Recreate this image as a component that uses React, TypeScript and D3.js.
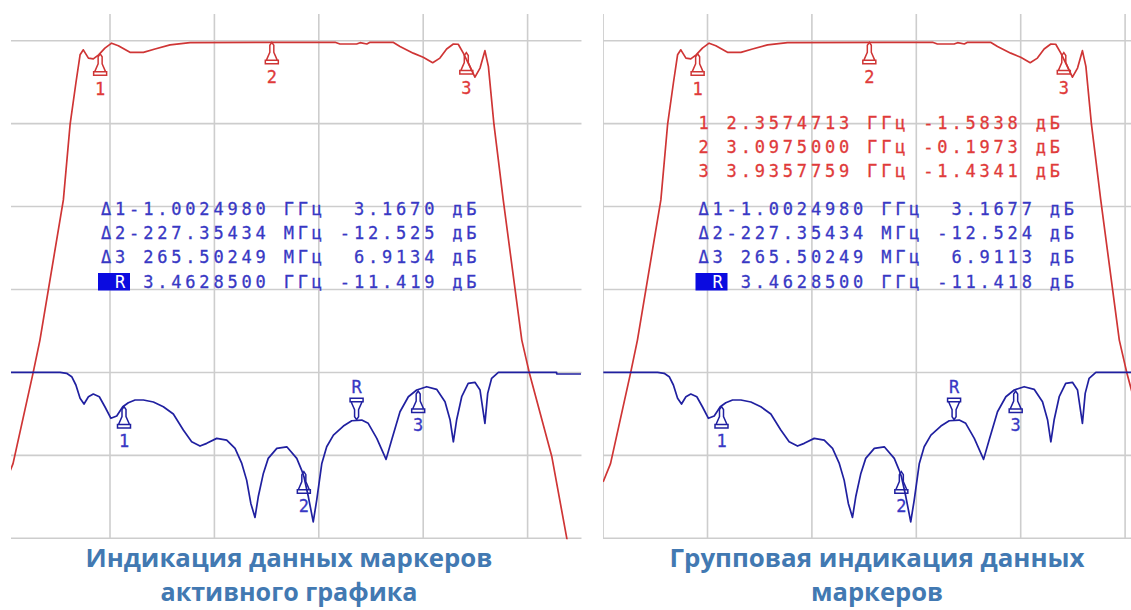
import React from 'react';
import * as d3 from 'd3';

// ---------- DATA ----------
// Transmission trace (red), frequency in GHz and level in dB (10 dB/div, ref 0 dB at top line)
const redFreq = [1.950, 1.982, 2.069, 2.098, 2.199, 2.228, 2.253, 2.271, 2.285, 2.307, 2.328, 2.351, 2.378, 2.407, 2.436, 2.486, 2.544, 2.594, 2.659, 2.745, 3.176, 3.370, 3.391, 3.463, 3.478, 3.507, 3.521, 3.620, 3.650, 3.707, 3.750, 3.791, 3.822, 3.851, 3.880, 3.901, 3.923, 3.944, 3.973, 3.995, 4.016, 4.031, 4.045, 4.055, 4.074, 4.095, 4.175, 4.207, 4.304, 4.369, 4.404];
const redDb = [-53.2, -51.0, -40.0, -36.1, -19.2, -10.1, -5.1, -1.7, -1.1, -2.1, -2.2, -1.7, -0.9, -0.3, -0.6, -1.4, -1.4, -1.0, -0.5, -0.24, -0.19, -0.19, -0.4, -0.4, -0.24, -0.4, -0.19, -0.19, -0.7, -1.5, -2.0, -2.65, -2.1, -1.0, -0.4, -0.43, -1.5, -2.7, -4.4, -3.3, -1.2, -3.1, -7.2, -10.1, -14.4, -19.2, -36.1, -40.0, -50.1, -60.0, -65.0];

// Reflection trace (blue), frequency in GHz and level in dB (20 dB/div, ref 0 dB at 5th line)
const blueFreq = [1.951, 2.185, 2.213, 2.235, 2.253, 2.271, 2.288, 2.307, 2.328, 2.354, 2.378, 2.404, 2.429, 2.455, 2.479, 2.508, 2.544, 2.587, 2.630, 2.673, 2.716, 2.752, 2.788, 2.817, 2.860, 2.903, 2.939, 2.968, 2.989, 3.007, 3.025, 3.039, 3.061, 3.082, 3.119, 3.162, 3.205, 3.226, 3.236, 3.255, 3.276, 3.291, 3.313, 3.334, 3.363, 3.406, 3.442, 3.485, 3.513, 3.550, 3.590, 3.614, 3.650, 3.686, 3.722, 3.765, 3.808, 3.844, 3.866, 3.880, 3.894, 3.916, 3.944, 3.973, 3.995, 4.016, 4.028, 4.045, 4.074, 4.325, 4.3255, 4.430];
const blueDb = [0, 0, -0.24, -1.06, -3.06, -6.27, -7.65, -5.89, -5.23, -5.89, -8.3, -11.09, -10.54, -8.3, -7.33, -6.68, -6.68, -7.16, -8.3, -10.06, -13.92, -16.74, -17.78, -17.12, -15.92, -16.33, -18.33, -21.95, -25.98, -31.6, -34.97, -30.0, -24.36, -20.74, -18.33, -17.95, -20.74, -23.56, -25.18, -30.0, -36.03, -30.8, -21.95, -17.95, -15.12, -12.95, -11.67, -11.51, -12.3, -15.92, -20.98, -16.33, -9.5, -5.89, -4.27, -3.47, -4.1, -7.09, -11.5, -16.74, -11.5, -5.89, -2.65, -2.41, -4.27, -12.3, -5.07, -1.45, 0, 0, -0.41, -0.41];

// Grid
const gridFreq = [1.95, 2.4, 2.85, 3.3, 3.75, 4.2, 4.65];
const gridDbRed = [0, -10, -20, -30, -40, -50, -60];

// Markers on red trace
const redMarkerFreq = [2.3574713, 3.0975, 3.9357759];
const redMarkerDb = [-1.5838, -0.1973, -1.4341];
const redMarkerLabel = ['1', '2', '3'];

// Markers on blue trace (delta to reference R)
const refFreq = 3.46285;
const refDb = -11.419;
const deltaFreq = [-1.002498, -0.22735434, 0.26550249];
const deltaDb = [3.167, -12.525, 6.9134];
const deltaLabel = ['1', '2', '3'];

// Readouts
const leftDeltaRows = ['Δ1-1.0024980 ГГц  3.1670 дБ', 'Δ2-227.35434 МГц -12.525 дБ', 'Δ3 265.50249 МГц  6.9134 дБ'];
const leftRefRow = ' 3.4628500 ГГц -11.419 дБ';
const rightRedRows = ['1 2.3574713 ГГц -1.5838 дБ', '2 3.0975000 ГГц -0.1973 дБ', '3 3.9357759 ГГц -1.4341 дБ'];
const rightDeltaRows = ['Δ1-1.0024980 ГГц  3.1677 дБ', 'Δ2-227.35434 МГц -12.524 дБ', 'Δ3 265.50249 МГц  6.9113 дБ'];
const rightRefRow = ' 3.4628500 ГГц -11.418 дБ';

const captionLeft = ['Индикация данных маркеров', 'активного графика'];
const captionRight = ['Групповая индикация данных', 'маркеров'];

// ---------- STYLE ----------
const RED = '#cf3535';
const RED_TEXT = '#e03a3a';
const BLUE = '#2020a0';
const BLUE_TEXT = '#3838c4';
const GRID = '#cdcdcd';
const CAPTION = '#4279b2';
const MONO = "'DejaVu Sans Mono', monospace";
const FS = 17;

function markerPath(up: boolean) {
  const s = up ? 1 : -1;
  return `M0,0 L-2,${3 * s} L-2,${10 * s} L-5.5,${18 * s} L5.5,${18 * s} L2,${10 * s} L2,${3 * s} Z M-6.5,${18 * s} L6.5,${18 * s} L6.5,${21.5 * s} L-6.5,${21.5 * s} Z`;
}

export default function App() {
  const top = 14;
  const bottom = 538.3;
  const yRed = d3.scaleLinear().domain([0, -60]).range([40.7, 538.3]);
  const yBlue = d3.scaleLinear().domain([0, -40]).range([372.3, 538.3]);

  const redPts: [number, number][] = redFreq.map((f, i) => [f, redDb[i]]);
  const bluePts: [number, number][] = blueFreq.map((f, i) => [f, blueDb[i]]);

  const panels = [
    {
      id: 'L', x0: 11, x1: 581.7,
      x: d3.scaleLinear().domain([2.4, 4.2]).range([110, 527.6]),
      textX: 101, redRows: [] as string[], deltaRows: leftDeltaRows, refRow: leftRefRow,
      caption: captionLeft, cx: 289, capW: [407, 257],
    },
    {
      id: 'R', x0: 603, x1: 1131,
      x: d3.scaleLinear().domain([2.4, 4.2]).range([707.5, 1125.1]),
      textX: 698.5, redRows: rightRedRows, deltaRows: rightDeltaRows, refRow: rightRefRow,
      caption: captionRight, cx: 877, capW: [415, 132],
    },
  ];

  const redBase = [129, 152.5, 176.5];
  const blueBase = [215, 239, 263, 287.5];
  const textStyle: React.CSSProperties = { letterSpacing: `${14.05 - 0.602 * FS}px`, whiteSpace: 'pre' };

  return (
    <svg width={1131} height={610} style={{ position: 'absolute', left: 0, top: 0, background: '#fff' }}>
      <defs>
        {panels.map(p => (
          <clipPath id={`clip${p.id}`} key={p.id}>
            <rect x={p.x0} y={top} width={p.x1 - p.x0} height={bottom - top + 1} />
          </clipPath>
        ))}
      </defs>
      {panels.map(p => {
        const redPath = d3.line<[number, number]>().x(d => p.x(d[0])).y(d => yRed(d[1]))(redPts) || '';
        const bluePath = d3.line<[number, number]>().x(d => p.x(d[0])).y(d => yBlue(d[1]))(bluePts) || '';
        return (
          <g key={p.id}>
            <g clipPath={`url(#clip${p.id})`}>
              {gridDbRed.map(g => (
                <line key={'h' + g} x1={p.x0} x2={p.x1} y1={yRed(g)} y2={yRed(g)} stroke={GRID} strokeWidth={1.6} />
              ))}
              {gridFreq.map(g => (
                <line key={'v' + g} x1={p.x(g)} x2={p.x(g)} y1={top} y2={bottom} stroke={GRID} strokeWidth={1.6} />
              ))}
              <path d={redPath} fill="none" stroke={RED} strokeWidth={1.7} strokeLinejoin="round" />
              <path d={bluePath} fill="none" stroke={BLUE} strokeWidth={1.7} strokeLinejoin="round" />
              {redMarkerFreq.map((f, i) => {
                const mx = p.x(f), my = yRed(redMarkerDb[i]);
                return (
                  <g key={'rm' + i}>
                    <path d={markerPath(true)} transform={`translate(${mx},${my})`} fill="none" stroke={RED} strokeWidth={1.5} />
                    <text x={mx} y={my + 41} textAnchor="middle" fontFamily={MONO} fontSize={FS} fill={RED_TEXT} stroke={RED_TEXT} strokeWidth={0.3}>{redMarkerLabel[i]}</text>
                  </g>
                );
              })}
              {deltaFreq.map((df, i) => {
                const mx = p.x(refFreq + df), my = yBlue(refDb + deltaDb[i]);
                return (
                  <g key={'bm' + i}>
                    <path d={markerPath(true)} transform={`translate(${mx},${my})`} fill="none" stroke={BLUE} strokeWidth={1.5} />
                    <text x={mx} y={my + 40} textAnchor="middle" fontFamily={MONO} fontSize={FS} fill={BLUE_TEXT} stroke={BLUE_TEXT} strokeWidth={0.3}>{deltaLabel[i]}</text>
                  </g>
                );
              })}
              <g>
                <path d={markerPath(false)} transform={`translate(${p.x(refFreq)},${yBlue(refDb)})`} fill="none" stroke={BLUE} strokeWidth={1.5} />
                <text x={p.x(refFreq)} y={yBlue(refDb) - 27} textAnchor="middle" fontFamily={MONO} fontSize={FS} fill={BLUE_TEXT} stroke={BLUE_TEXT} strokeWidth={0.3}>R</text>
              </g>
            </g>
            {p.redRows.map((r, i) => (
              <text key={'rr' + i} x={p.textX} y={redBase[i]} fontFamily={MONO} fontSize={FS} fill={RED_TEXT} stroke={RED_TEXT} strokeWidth={0.3} style={textStyle}>{r}</text>
            ))}
            {p.deltaRows.map((r, i) => (
              <text key={'dr' + i} x={p.textX} y={blueBase[i]} fontFamily={MONO} fontSize={FS} fill={BLUE_TEXT} stroke={BLUE_TEXT} strokeWidth={0.3} style={textStyle}>{r}</text>
            ))}
            <rect x={p.textX - 3} y={blueBase[3] - 14.5} width={32} height={17.5} fill="#0b0be0" />
            <text x={p.textX} y={blueBase[3]} fontFamily={MONO} fontSize={FS} style={textStyle}>
              <tspan fill="#ffffff"> R</tspan>
              <tspan fill={BLUE_TEXT} stroke={BLUE_TEXT} strokeWidth={0.3}>{p.refRow}</tspan>
            </text>
            {p.caption.map((c, i) => (
              <text key={'c' + i} x={p.cx} y={i === 0 ? 567 : 601} textAnchor="middle" fontFamily="'Open Sans', sans-serif" fontWeight={700} fontSize={25} fill={CAPTION} textLength={p.capW[i]} lengthAdjust="spacingAndGlyphs">{c}</text>
            ))}
          </g>
        );
      })}
    </svg>
  );
}
